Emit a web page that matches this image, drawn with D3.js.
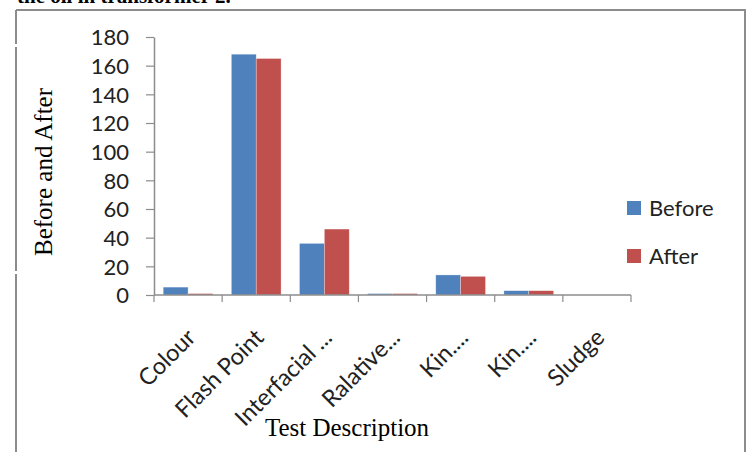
<!DOCTYPE html>
<html>
<head>
<meta charset="utf-8">
<script src="https://cdn.jsdelivr.net/npm/d3@7"></script>
<style>
  html, body { margin: 0; padding: 0; background: #fff; }
  svg { display: block; }
</style>
</head>
<body>
<svg id="chart" width="750" height="452"></svg>
<script>
// Test results of the transformer oil, before and after treatment
const categories = ["Colour", "Flash Point", "Interfacial ...", "Ralative...", "Kin....", "Kin....", "Sludge"];
const seriesNames = ["Before", "After"];
const beforeValues = [5.5, 168, 36, 1, 14, 3, 0];
const afterValues = [1, 165, 46, 1, 13, 3, 0];
const yTicks = [0, 20, 40, 60, 80, 100, 120, 140, 160, 180];
const colors = ["#4f81bd", "#c0504d"];

const svg = d3.select("#chart");
const W = 750, H = 452;

// caption line above the frame, running off the page top
svg.append("text")
  .attr("x", 17).attr("y", 3)
  .attr("font-family", "Liberation Serif, Times New Roman, serif")
  .attr("font-weight", "bold")
  .attr("font-size", 21)
  .attr("fill", "#000")
  .text("the oil in transformer 2.");

// frame around the chart
const frame = svg.append("g").attr("stroke", "#8c8c8c").attr("stroke-width", 2).attr("fill", "none");
frame.append("line").attr("x1", 16).attr("x2", 746).attr("y1", 10).attr("y2", 10);
frame.append("line").attr("x1", 745).attr("x2", 745).attr("y1", 10).attr("y2", H);
frame.append("line").attr("x1", 16).attr("x2", 16).attr("y1", 10).attr("y2", 44);
frame.append("line").attr("x1", 16).attr("x2", 16).attr("y1", 47).attr("y2", 271);
frame.append("line").attr("x1", 16).attr("x2", 16).attr("y1", 274).attr("y2", H);

const plot = { left: 154, right: 631, top: 37, bottom: 295 };

const x = d3.scaleBand()
  .domain(d3.range(categories.length))
  .range([plot.left, plot.right])
  .paddingInner(0)
  .paddingOuter(0);

const xInner = d3.scaleBand()
  .domain(seriesNames)
  .range([0, x.bandwidth()])
  .paddingInner(0)
  .paddingOuter(0.37);

const y = d3.scaleLinear().domain([0, 180]).range([plot.bottom, plot.top]);

const fontSans = "Lato, Carlito, 'Open Sans', sans-serif";

// y axis
const yAxis = svg.append("g")
  .attr("transform", `translate(${plot.left},0)`)
  .call(d3.axisLeft(y).tickValues(yTicks).tickSize(8).tickPadding(17).tickSizeOuter(0));
yAxis.select(".domain").attr("stroke", "#8c8c8c").attr("stroke-width", 1.5);
yAxis.selectAll(".tick line").attr("stroke", "#8c8c8c").attr("stroke-width", 1.2);
yAxis.selectAll(".tick text")
  .attr("font-family", fontSans)
  .attr("font-size", 22)
  .attr("fill", "#222")
  .attr("dy", "0.35em");

// bars
const rows = categories.map((c, i) => ({ i, values: [beforeValues[i], afterValues[i]] }));
const groups = svg.append("g").selectAll("g")
  .data(rows)
  .join("g")
  .attr("transform", d => `translate(${x(d.i)},0)`);

groups.selectAll("rect")
  .data(d => d.values.map((v, k) => ({ v, k })))
  .join("rect")
  .attr("x", d => xInner(seriesNames[d.k]))
  .attr("width", xInner.bandwidth())
  .attr("y", d => y(d.v))
  .attr("height", d => y(0) - y(d.v))
  .attr("fill", d => colors[d.k])
  .attr("stroke", "#fff")
  .attr("stroke-opacity", 0.5)
  .attr("stroke-width", 0.6);

// x axis
const xAxis = svg.append("g")
  .attr("transform", `translate(0,${plot.bottom})`);
xAxis.append("line")
  .attr("x1", plot.left).attr("x2", plot.right)
  .attr("y1", 0).attr("y2", 0)
  .attr("stroke", "#8c8c8c").attr("stroke-width", 1.5);
const xTickPos = d3.range(categories.length + 1).map(i => plot.left + i * x.step());
xAxis.selectAll("line.tick")
  .data(xTickPos)
  .join("line")
  .attr("class", "tick")
  .attr("x1", d => d).attr("x2", d => d)
  .attr("y1", 0).attr("y2", 7)
  .attr("stroke", "#8c8c8c").attr("stroke-width", 1.2);

svg.append("g").selectAll("text")
  .data(categories)
  .join("text")
  .attr("transform", (d, i) => `translate(${x(i) + x.bandwidth() / 2 + 9},${plot.bottom + 44}) rotate(-45)`)
  .attr("text-anchor", "end")
  .attr("font-family", fontSans)
  .attr("font-size", 23.5)
  .attr("fill", "#222")
  .text(d => d);

// axis titles
svg.append("text")
  .attr("x", 347).attr("y", 436)
  .attr("text-anchor", "middle")
  .attr("font-family", "Liberation Serif, Times New Roman, serif")
  .attr("font-size", 25)
  .attr("fill", "#000")
  .text("Test Description");

svg.append("text")
  .attr("transform", "translate(52,172) rotate(-90)")
  .attr("text-anchor", "middle")
  .attr("font-family", "Liberation Serif, Times New Roman, serif")
  .attr("font-size", 25)
  .attr("fill", "#000")
  .text("Before and After");

// legend
const legend = svg.append("g").selectAll("g")
  .data(seriesNames)
  .join("g")
  .attr("transform", (d, i) => `translate(627,${201 + i * 48})`);
legend.append("rect")
  .attr("width", 14).attr("height", 14)
  .attr("fill", (d, i) => colors[i]);
legend.append("text")
  .attr("x", 22).attr("y", 15)
  .attr("font-family", fontSans)
  .attr("font-size", 22)
  .attr("fill", "#222")
  .text(d => d);
</script>
</body>
</html>
